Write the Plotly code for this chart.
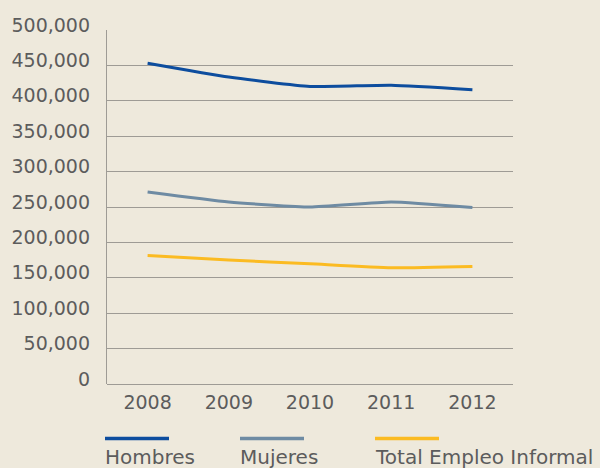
import plotly.graph_objects as go

years = ["2008", "2009", "2010", "2011", "2012"]
hombres = [453000, 433500, 420300, 422000, 415700]
mujeres = [271200, 257100, 250100, 257100, 249200]
total = [181500, 175300, 169700, 164100, 166000]

series_names = ["Hombres", "Mujeres", "Total Empleo Informal"]
series_values = [hombres, mujeres, total]
colors = ["#0d4d9e", "#6e8ba3", "#fbbb22"]

y_ticks = [0, 50000, 100000, 150000, 200000, 250000, 300000, 350000, 400000, 450000, 500000]
y_tick_text = ["0", "50,000", "100,000", "150,000", "200,000", "250,000", "300,000",
               "350,000", "400,000", "450,000", "500,000"]

bg = "#eee9dc"
font_family = "DejaVu Sans"
text_color = "#5c5c5c"

fig = go.Figure()
for name, vals, col in zip(series_names, series_values, colors):
    fig.add_trace(go.Scatter(
        x=years, y=vals, name=name, mode="lines",
        line=dict(color=col, width=3, shape="spline", smoothing=0.5),
        showlegend=False,
    ))

# custom legend: line sample above label
legend_x = [105, 240, 375]
legend_len = 64
W, H = 600, 468
ML, MR, MT, MB = 107, 87, 30, 84
pw, ph = W - ML - MR, H - MT - MB
for i, (name, col) in enumerate(zip(series_names, colors)):
    x0 = legend_x[i]
    fig.add_shape(type="line", xref="paper", yref="paper",
                  x0=(x0 - ML) / pw, x1=(x0 + legend_len - ML) / pw,
                  y0=(MT + ph - 438.5) / ph, y1=(MT + ph - 438.5) / ph,
                  line=dict(color=col, width=3.5))
    fig.add_annotation(text=name, xref="paper", yref="paper",
                       x=(x0 - 2 - ML) / pw, y=(MT + ph - 457) / ph,
                       xanchor="left", yanchor="middle", showarrow=False,
                       font=dict(family=font_family, size=20, color=text_color))

fig.update_layout(
    width=W, height=H,
    margin=dict(l=ML, r=MR, t=MT, b=MB, autoexpand=False),
    paper_bgcolor=bg, plot_bgcolor=bg,
    font=dict(family=font_family, size=19, color=text_color),
    xaxis=dict(
        type="category", range=[-0.5, 4.5], showgrid=False, automargin=False,
        showline=False, zeroline=False, ticks="", ticklabelstandoff=5,
        tickfont=dict(size=19, color=text_color),
    ),
    yaxis=dict(
        range=[0, 500000], tickvals=y_ticks, ticktext=y_tick_text, automargin=False,
        showgrid=True, gridcolor="#9e9b95", gridwidth=1.3,
        showline=True, linecolor="#9e9b95", linewidth=1.3,
        zeroline=True, zerolinecolor="#9e9b95", zerolinewidth=1.3,
        ticks="", ticklabelstandoff=12, ticklabelshift=-5,
        tickfont=dict(size=19, color=text_color),
    ),
)

fig.write_html(
    "out.html",
    config={"displayModeBar": False},
    post_script="document.body.style.margin='0';document.body.style.overflow='hidden';",
)
